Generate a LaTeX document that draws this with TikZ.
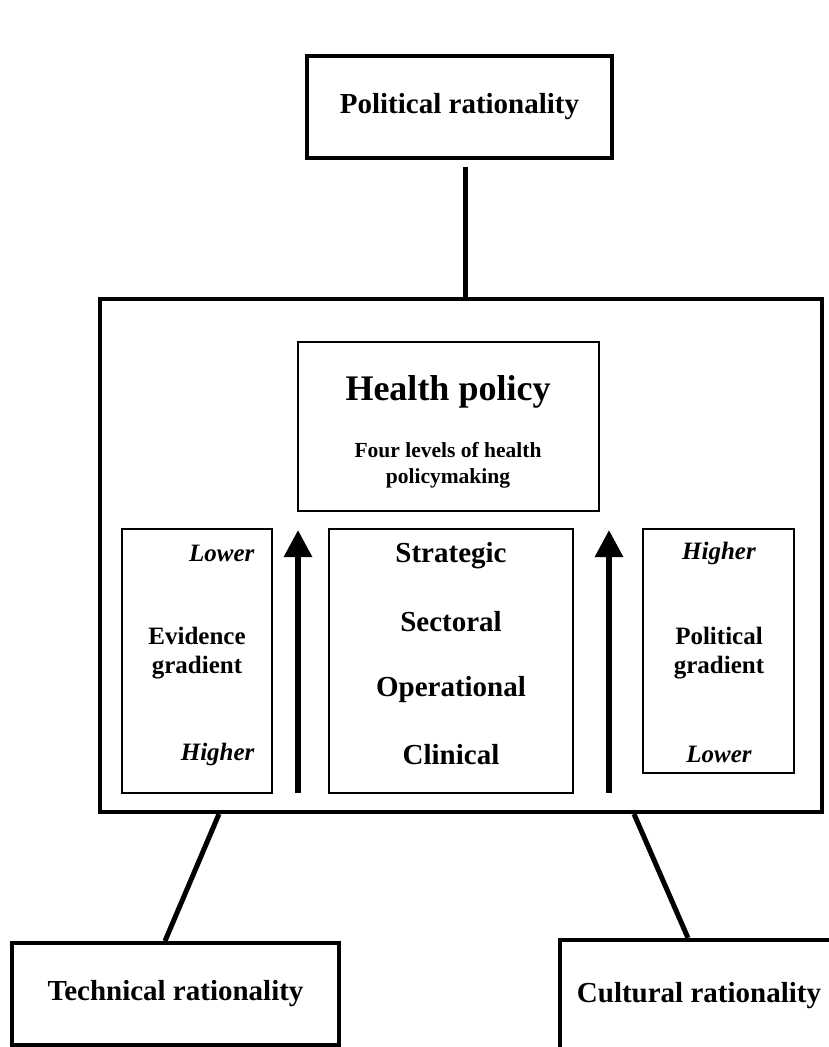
\documentclass[tikz,border=0pt]{standalone}
\usepackage{fontspec}
\setmainfont{Liberation Serif}
\usetikzlibrary{arrows.meta}

\begin{document}
\begin{tikzpicture}
        [
            x=1pt, y=-1pt,
            ratbox/.style={draw, line width=4pt, minimum height=102pt, font=\fontsize{29}{33}\selectfont\bfseries},
            panel/.style={draw, line width=1.5pt},
            level/.style={font=\fontsize{29}{33}\selectfont\bfseries},
            grad/.style={align=center, font=\fontsize{25}{29}\selectfont\bfseries},
            tick/.style={font=\fontsize{25}{29}\selectfont\bfseries\itshape},
            link/.style={line width=5pt},
            uparrow/.style={line width=6pt, -{Triangle[width=27pt, length=27pt]}}
        ]
        \useasboundingbox (0,0) rectangle (829,1047);
        \clip (0,0) rectangle (829,1047);

        % the three rationalities
        \node[ratbox, minimum width=305pt] (political) at (459.5,107) {Political rationality};
        \node[ratbox, minimum width=327pt] (technical) at (175.5,994) {Technical rationality};
        \node[ratbox, minimum width=278pt, minimum height=112pt] (cultural) at (699,996) {Cultural rationality};

        % big frame
        \node[draw, line width=4pt, minimum width=722pt, minimum height=513pt] (frame) at (461,555.5) {};

        % health policy box
        \node[panel, line width=2pt, minimum width=301pt, minimum height=169pt] (health) at (448.5,426.5) {};
        \node[font=\fontsize{36}{40}\selectfont\bfseries] (title) at (448,392) {Health policy};
        \node[align=center, font=\fontsize{21.5}{26}\selectfont\bfseries] (subtitle) at (448,465) {Four levels of health\\policymaking};

        % evidence gradient
        \node[panel, minimum width=150pt, minimum height=264pt] (evidence) at (197,661) {};
        \node[tick, anchor=east] (evlow) at (258,553) {Lower};
        \node[grad] (evlabel) at (197,653) {Evidence\\gradient};
        \node[tick, anchor=east] (evhigh) at (258,754) {Higher};

        % levels
        \node[panel, minimum width=244pt, minimum height=264pt] (levels) at (451,661) {};
        \node[level] (strategic) at (451,556) {Strategic};
        \node[level] (sectoral) at (451,622) {Sectoral};
        \node[level] (operational) at (451,690) {Operational};
        \node[level] (clinical) at (451,755) {Clinical};

        % political gradient
        \node[panel, minimum width=151pt, minimum height=244pt] (polgrad) at (718.5,651) {};
        \node[tick] (pghigh) at (719,553) {Higher};
        \node[grad] (pglabel) at (719,653) {Political\\gradient};
        \node[tick] (pglow) at (719,754) {Lower};

        % arrows
        \coordinate (arrowLfoot) at (298,793);
        \coordinate (arrowLtip) at (298,530);
        \coordinate (arrowRfoot) at (609,793);
        \coordinate (arrowRtip) at (609,530);
        \draw[uparrow] (arrowLfoot) -- (arrowLtip);
        \draw[uparrow] (arrowRfoot) -- (arrowRtip);

        % links
        \coordinate (polfoot) at (465.5,167);
        \draw[link] (polfoot) -- (polfoot |- frame.north);
        \draw[link] ([xshift=121pt]frame.south west) -- ([xshift=155pt]technical.north west);
        \draw[link] ([xshift=536pt]frame.south west) -- ([xshift=130pt]cultural.north west);
    \end{tikzpicture}
\end{document}
